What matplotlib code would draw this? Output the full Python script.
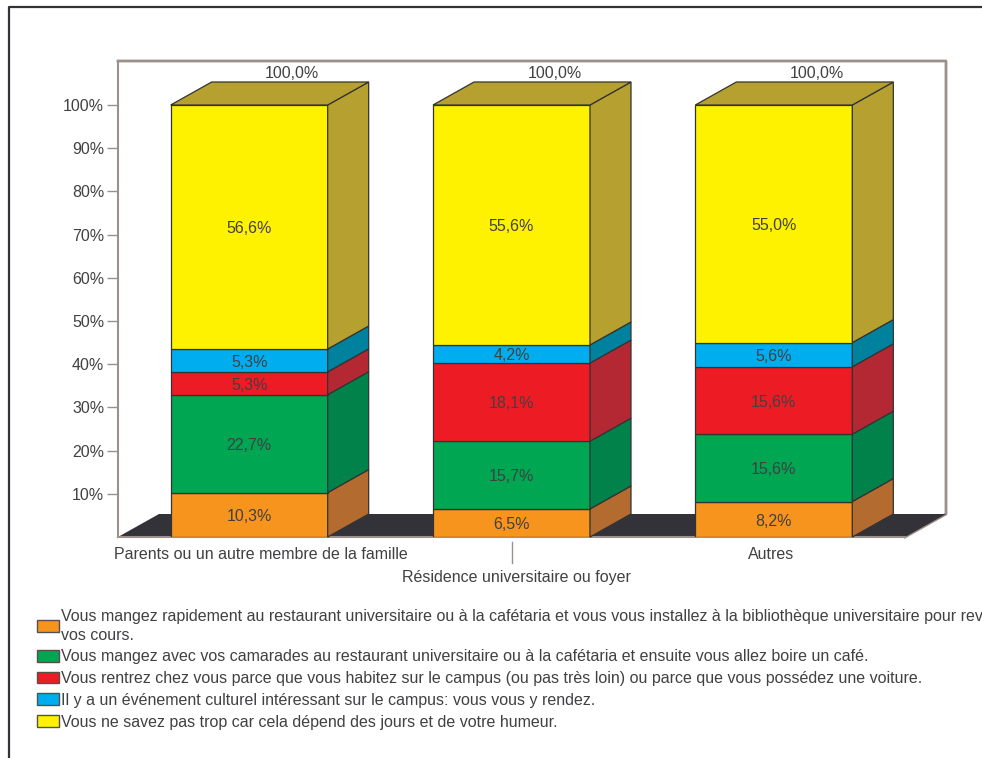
import matplotlib
matplotlib.use('Agg')
import matplotlib.pyplot as plt
from matplotlib.lines import Line2D
from matplotlib.patches import Patch
from matplotlib.transforms import ScaledTranslation

categories = ['Parents ou un autre membre de la famille',
              'Résidence universitaire ou foyer',
              'Autres']
orange = [10.3, 6.5, 8.2]
green = [22.7, 15.7, 15.6]
red = [5.3, 18.1, 15.6]
blue = [5.3, 4.2, 5.6]
yellow = [56.6, 55.6, 55.0]
totals = ['100,0%', '100,0%', '100,0%']
yticks = [10, 20, 30, 40, 50, 60, 70, 80, 90, 100]

series = [orange, green, red, blue, yellow]
front_colors = ['#f7941d', '#00a651', '#ed1c24', '#00aeef', '#fff200']
side_colors = ['#b36b30', '#00824a', '#b42833', '#00829f', '#b5a030']
legend_labels = [
    'Vous mangez rapidement au restaurant universitaire ou à la cafétaria et vous vous installez à la bibliothèque universitaire pour revoir\nvos cours.',
    'Vous mangez avec vos camarades au restaurant universitaire ou à la cafétaria et ensuite vous allez boire un café.',
    'Vous rentrez chez vous parce que vous habitez sur le campus (ou pas très loin) ou parce que vous possédez une voiture.',
    'Il y a un événement culturel intéressant sur le campus: vous vous y rendez.',
    'Vous ne savez pas trop car cela dépend des jours et de votre humeur.',
]

plt.rcParams['font.family'] = ['Liberation Sans', 'DejaVu Sans']
text_color = '#414042'
edge = '#333333'
wall = '#9c908c'
FS = 11.5

W, H = 982, 758
fig = plt.figure(figsize=(W / 100, H / 100), dpi=100)
ax = fig.add_axes([118 / W, 1 - 537 / H, 787 / W, 476 / H])
ax.set_xlim(-0.5, 2.5)
ax.set_ylim(0, 476 / 4.32)

# depth of the fake 3d in data units
dx = 41 / (787 / 3)
dy = 23 / 4.32
bar_w = 157 / (787 / 3)

# back wall and floor
x0, x1 = ax.get_xlim()
y1 = ax.get_ylim()[1]
ax.plot([x0, x1 + dx, x1 + dx, x1], [y1, y1, dy, 0], color=wall, lw=2, clip_on=False, zorder=1)
ax.fill([x0, x0 + dx, x1 + dx, x1], [0, dy, dy, 0], color='#333238', lw=0, clip_on=False, zorder=2)

for i in range(3):
    total = sum(s[i] for s in series)
    left = i - bar_w / 2
    right = i + bar_w / 2
    bottom = 0
    for s, fc, sc in zip(series, front_colors, side_colors):
        h = 100 * s[i] / total
        ax.bar(i, h, bar_w, bottom=bottom, color=fc, edgecolor=edge, lw=0.9, zorder=3)
        ax.fill([right, right + dx, right + dx, right],
                [bottom, bottom + dy, bottom + h + dy, bottom + h],
                facecolor=sc, edgecolor=edge, lw=0.9, clip_on=False, zorder=3)
        ax.text(i, bottom + h / 2 - 0.4, f'{s[i]:.1f}%'.replace('.', ','), ha='center', va='center',
                fontsize=FS, color=text_color, zorder=5)
        bottom += h
    # top face
    ax.fill([left, left + dx, right + dx, right], [100, 100 + dy, 100 + dy, 100],
            facecolor=side_colors[4], edgecolor=edge, lw=0.9, clip_on=False, zorder=3)
    ax.text(i + 0.164, 107.2, totals[i], ha='center', va='center', fontsize=FS, color=text_color, zorder=5)

# axes
for name in ['top', 'right']:
    ax.spines[name].set_visible(False)
for name in ['left', 'bottom']:
    ax.spines[name].set_color(wall)
    ax.spines[name].set_linewidth(1.5)
    ax.spines[name].set_zorder(2.5)
ax.set_yticks(yticks)
ax.set_yticklabels([f'{t}%' for t in yticks], fontsize=FS, color=text_color)
ax.tick_params(axis='y', length=8, width=1, color=wall, pad=2)
ax.set_xticks([0, 1, 2])
ax.set_xticklabels(categories, fontsize=FS, color=text_color)
ax.tick_params(axis='x', length=0)
pads = [7.5, 24, 7.5]
shifts = [12, 5, -3]
for tick, pad, shift, lab in zip(ax.xaxis.get_major_ticks(), pads, shifts, ax.get_xticklabels()):
    tick.set_pad(pad)
    lab.set_transform(lab.get_transform() + ScaledTranslation(shift / 100, 0, fig.dpi_scale_trans))
ax.plot([1, 1], [-1.2, -6], color=wall, lw=1, clip_on=False)

# legend
handles = [Patch(facecolor=c, edgecolor='#55504c', lw=1) for c in front_colors]
leg = fig.legend(handles, legend_labels, loc='upper left', bbox_to_anchor=(37 / W, 1 - 608.5 / H),
                 frameon=False, fontsize=FS, labelcolor=text_color, borderaxespad=0, borderpad=0,
                 handlelength=1.38, handleheight=0.75, handletextpad=0.12, labelspacing=0.42)
leg.get_texts()[0].set_linespacing(1.35)

# page frame
fig.add_artist(Line2D([9 / W, 9 / W, 1], [0, 1 - 7 / H, 1 - 7 / H], color='#333238', lw=1.6))

fig.savefig('out.png', dpi=100)
